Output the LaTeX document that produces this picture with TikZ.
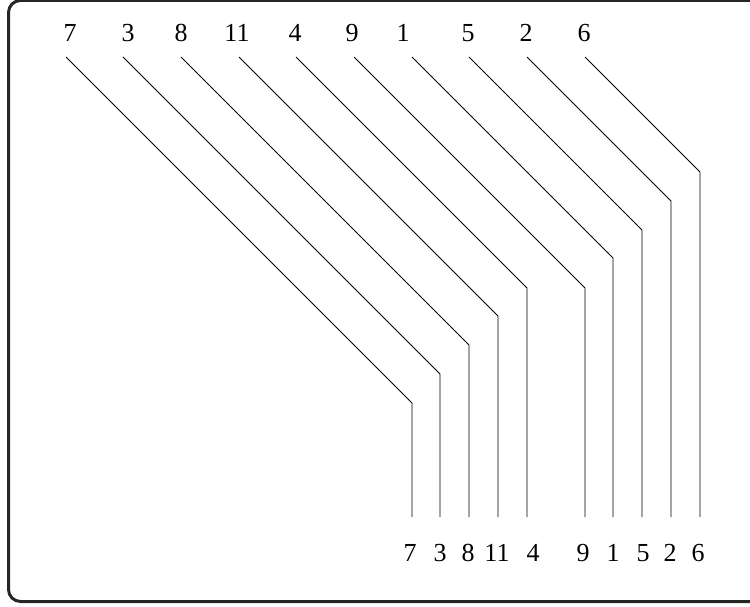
\documentclass[tikz,border=0pt]{standalone}
\usepackage{fontspec}
\setmainfont{Liberation Serif}
\begin{document}
\begin{tikzpicture}[x=1pt,y=-1pt,
  lbl/.style={font=\fontsize{26}{30}\selectfont, inner sep=0pt, anchor=center},
  wire/.style={line width=0.8pt},
  frame/.style={line width=3pt, rounded corners=12pt, black!85}]
\useasboundingbox (0,0) rectangle (750,607);
\begin{scope}
  \clip (0,0) rectangle (750,607);
  \draw[frame] (8.5,0.5) rectangle (800,601.5);
\end{scope}
\foreach \n/\tx/\sx/\ex/\bx in {7/70/66/412/410, 3/128/123/440/440, 8/181/181/469/468, 11/237/239/498/497, 4/295/296/527/533, 9/352/354/585/583, 1/403/412/613/613, 5/468/469/642/643, 2/526/527/671/670, 6/584/585/700/698} {
  \node[lbl] (t\n) at (\tx,33) {\n};
  \node[lbl] (b\n) at (\bx,553) {\n};
  \coordinate (s\n) at (\sx,57);
  \coordinate (e\n) at (\ex,517);
  \draw[wire] (s\n) -- ++(\ex-\sx,\ex-\sx) -- (e\n);
}
\end{tikzpicture}
\end{document}
